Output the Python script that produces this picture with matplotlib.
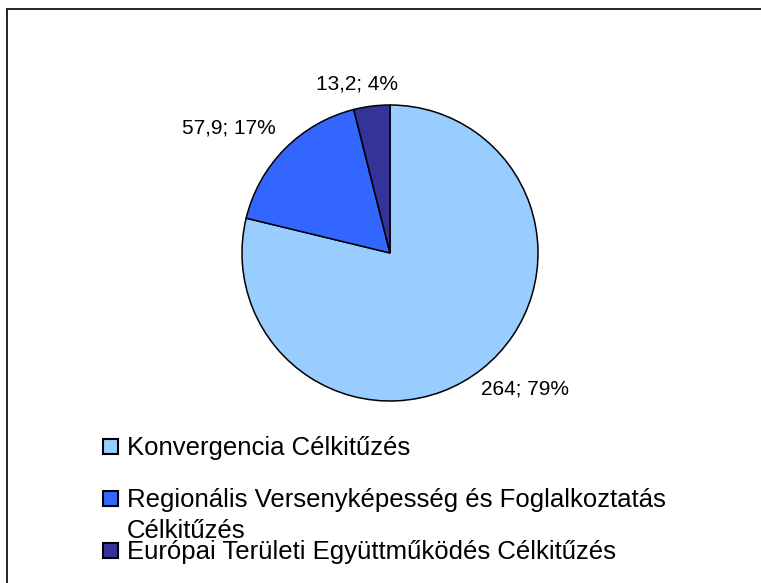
import matplotlib.pyplot as plt
from matplotlib.patches import Rectangle
from matplotlib.lines import Line2D

plt.rcParams['font.family'] = ['Liberation Sans', 'DejaVu Sans']

# Data
categories = ['Konvergencia Célkitűzés',
              'Regionális Versenyképesség és Foglalkoztatás\nCélkitűzés',
              'Európai Területi Együttműködés Célkitűzés']
values = [264, 57.9, 13.2]
value_labels = ['264', '57,9', '13,2']
colors = ['#99CCFF', '#3366FF', '#333399']

W, H = 761, 583
fig = plt.figure(figsize=(W / 100, H / 100), dpi=100)

# pie axes: centre (390, 253) px, radius 148 px
cx, cy, r = 390, 253, 148
ax = fig.add_axes([(cx - r) / W, 1 - (cy + r) / H, 2 * r / W, 2 * r / H])
wedges, _ = ax.pie(values, colors=colors, startangle=90, counterclock=False,
                   wedgeprops=dict(edgecolor='black', linewidth=1.1))
ax.set_xlim(-1, 1)
ax.set_ylim(-1, 1)
ax.set_aspect('equal')

# data labels (positions in axes data units, Excel-style placement)
total = sum(values)
label_pos = [(0.91, -0.92), (-1.09, 0.845), (-0.225, 1.14)]
for v, vl, (lx, ly) in zip(values, value_labels, label_pos):
    pct = round(v / total * 100)
    ax.text(lx, ly, f'{vl}; {pct}%', ha='center', va='center',
            fontsize=15, clip_on=False)

# legend drawn manually (baselines in px from top)
row_base = [455, 507, 559]
for lab, col, y in zip(categories, colors, row_base):
    fig.patches.append(Rectangle((103 / W, 1 - (y - 1) / H), 15 / W, 15 / H,
                                 transform=fig.transFigure, facecolor=col,
                                 edgecolor='black', linewidth=1.5))
    for i, line in enumerate(lab.split('\n')):
        fig.text(127 / W, 1 - (y + 31 * i) / H, line, ha='left',
                 va='baseline', fontsize=18.5)

# outer frame (top and left visible)
fig.lines.append(Line2D([7 / W, 1], [1 - 9 / H, 1 - 9 / H],
                        transform=fig.transFigure, color='#222222', linewidth=1.4))
fig.lines.append(Line2D([7 / W, 7 / W], [0, 1 - 9 / H],
                        transform=fig.transFigure, color='#222222', linewidth=1.4))

fig.savefig('out.png', dpi=100)
